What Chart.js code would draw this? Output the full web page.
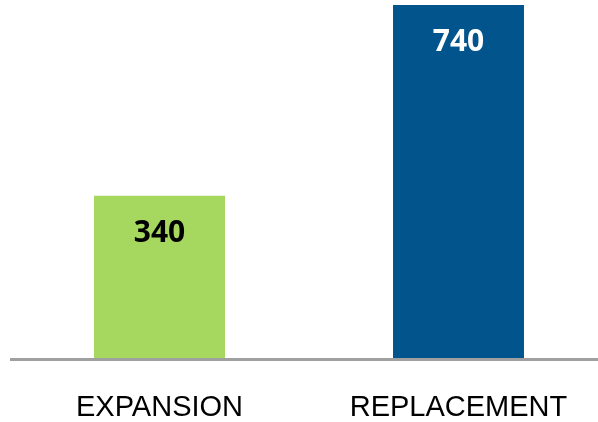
<!DOCTYPE html>
<html>
<head>
<meta charset="utf-8">
<script src="https://cdn.jsdelivr.net/npm/chart.js@4.4.0/dist/chart.umd.min.js"></script>
<style>
  html, body { margin: 0; padding: 0; background: #fff; overflow: hidden; }
  #wrap { width: 598px; height: 422px; overflow: hidden; }
</style>
</head>
<body>
<div id="wrap"><canvas id="chart" width="608" height="422"></canvas></div>
<script>
const categories = ['EXPANSION', 'REPLACEMENT'];
const values = [340, 740];
const barColors = ['#a6d75e', '#02548c'];
const labelColors = ['#000000', '#ffffff'];

// value text near the top of each bar
const valueLabels = {
    id: 'valueLabels',
    afterDatasetsDraw(chart) {
        const ctx = chart.ctx;
        const meta = chart.getDatasetMeta(0);
        ctx.save();
        ctx.font = 'bold 30px "Open Sans", "Liberation Sans", Arial, sans-serif';
        ctx.textAlign = 'center';
        ctx.textBaseline = 'alphabetic';
        meta.data.forEach((bar, i) => {
            ctx.fillStyle = labelColors[i];
            ctx.fillText(values[i], bar.x, bar.y + 46);
        });
        ctx.restore();
    }
};

// grey baseline under the bars
const baseLine = {
    id: 'baseLine',
    afterDatasetsDraw(chart) {
        const ctx = chart.ctx;
        const a = chart.chartArea;
        ctx.save();
        ctx.strokeStyle = '#a0a0a0';
        ctx.lineWidth = 3;
        ctx.beginPath();
        ctx.moveTo(a.left, a.bottom + 1.5);
        ctx.lineTo(chart.width, a.bottom + 1.5);
        ctx.stroke();
        ctx.restore();
    }
};

new Chart(document.getElementById('chart').getContext('2d'), {
    type: 'bar',
    data: {
        labels: categories,
        datasets: [{
            data: values,
            backgroundColor: barColors,
            borderWidth: 0,
            categoryPercentage: 1,
            barPercentage: 0.438
        }]
    },
    options: {
        responsive: false,
        devicePixelRatio: 1,
        animation: false,
        layout: { padding: { top: 5, left: 10, right: 0, bottom: 0 } },
        plugins: { legend: { display: false }, tooltip: { enabled: false } },
        scales: {
            x: {
                grid: { display: false },
                border: { display: false },
                ticks: {
                    color: '#000',
                    padding: 25,
                    font: { family: '"Liberation Sans", Arial, sans-serif', size: 29 }
                },
                afterFit: s => { s.height = 64; }
            },
            y: {
                display: false,
                min: 0,
                max: 740
            }
        }
    },
    plugins: [valueLabels, baseLine]
});
</script>
</body>
</html>
